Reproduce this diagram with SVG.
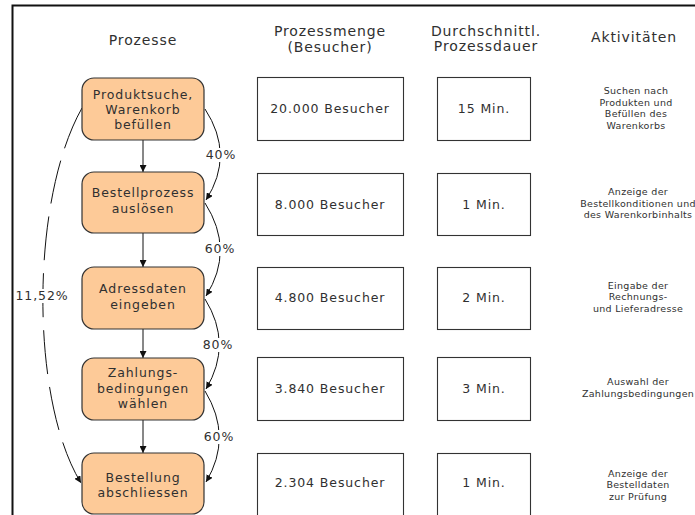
<svg xmlns="http://www.w3.org/2000/svg" width="695" height="515" viewBox="0 0 695 515">
<style>
text{font-family:"DejaVu Sans","Verdana",sans-serif;fill:#303030;text-anchor:middle}
.h{font-size:14px;letter-spacing:0.9px}
.n{font-size:12.5px;letter-spacing:0.9px}
.v{font-size:12.5px;letter-spacing:0.9px}
.a{font-size:9.5px;letter-spacing:0.3px}
.node rect{fill:#FDCA98;stroke:#333;stroke-width:1.2}
.box rect{fill:#fff;stroke:#333;stroke-width:1.1}
.c{fill:none;stroke:#111;stroke-width:1}
.lbl{fill:#fff;stroke:none}
</style>
<defs>
<marker id="ah" viewBox="0 0 10 10" refX="10" refY="5" markerWidth="7" markerHeight="7" markerUnits="userSpaceOnUse" orient="auto">
<path d="M0,0 L10,5 L0,10 z" fill="#111"/>
</marker>
</defs>
<rect width="695" height="515" fill="#fff"/>
<rect x="12.5" y="5.5" width="700" height="520" fill="none" stroke="#111" stroke-width="2"/>

<g id="headers">
<text class="h" x="143" y="45">Prozesse</text>
<text class="h" x="330" y="36">Prozessmenge</text>
<text class="h" x="330" y="52">(Besucher)</text>
<text class="h" x="486" y="36">Durchschnittl.</text>
<text class="h" x="486" y="51">Prozessdauer</text>
<text class="h" x="634" y="42">Aktivitäten</text>
</g>

<g id="connectors">
<line class="c" x1="143" y1="140" x2="143" y2="172" marker-end="url(#ah)"/>
<line class="c" x1="143" y1="233" x2="143" y2="267" marker-end="url(#ah)"/>
<line class="c" x1="143" y1="329" x2="143" y2="358" marker-end="url(#ah)"/>
<line class="c" x1="143" y1="420" x2="143" y2="453" marker-end="url(#ah)"/>
<path class="c" d="M205,109 Q235,155 206,200" marker-end="url(#ah)"/>
<path class="c" d="M205,203 Q235,250 206,296" marker-end="url(#ah)"/>
<path class="c" d="M205,299 Q233,344 206,389" marker-end="url(#ah)"/>
<path class="c" d="M205,391 Q233,437 206,482" marker-end="url(#ah)"/>
<path class="c" d="M82,108 C30,200 30,400 81,483" stroke-dasharray="44 13" marker-end="url(#ah)"/>
<rect class="lbl" x="204" y="148" width="34" height="14"/>
<text class="n" x="221" y="159">40%</text>
<rect class="lbl" x="204" y="242" width="34" height="14"/>
<text class="n" x="220" y="253">60%</text>
<rect class="lbl" x="202" y="338" width="34" height="14"/>
<text class="n" x="218" y="349">80%</text>
<rect class="lbl" x="202" y="430" width="34" height="14"/>
<text class="n" x="219" y="441">60%</text>
<rect class="lbl" x="14" y="289" width="56" height="14"/>
<text class="n" x="42" y="300">11,52%</text>
</g>

<g id="node1" class="node">
<rect x="82" y="78" width="122" height="62" rx="12"/>
<text class="n" x="143" y="98.5">Produktsuche,</text>
<text class="n" x="143" y="113.5">Warenkorb</text>
<text class="n" x="143" y="128.5">befüllen</text>
</g>
<g id="node2" class="node">
<rect x="82" y="172" width="122" height="61" rx="12"/>
<text class="n" x="143" y="197">Bestellprozess</text>
<text class="n" x="143" y="212.5">auslösen</text>
</g>
<g id="node3" class="node">
<rect x="82" y="267" width="122" height="62" rx="12"/>
<text class="n" x="143" y="293.3">Adressdaten</text>
<text class="n" x="143" y="309.3">eingeben</text>
</g>
<g id="node4" class="node">
<rect x="82" y="358" width="122" height="62" rx="12"/>
<text class="n" x="143" y="377.3">Zahlungs-</text>
<text class="n" x="143" y="392.7">bedingungen</text>
<text class="n" x="143" y="408.3">wählen</text>
</g>
<g id="node5" class="node">
<rect x="82" y="453" width="122" height="61" rx="12"/>
<text class="n" x="143" y="481.7">Bestellung</text>
<text class="n" x="143" y="496.7">abschliessen</text>
</g>

<g id="menge1" class="box"><rect x="257.5" y="77.5" width="146" height="63"/><text class="v" x="330" y="113">20.000 Besucher</text></g>
<g id="menge2" class="box"><rect x="257.5" y="173.5" width="146" height="62"/><text class="v" x="330" y="208.5">8.000 Besucher</text></g>
<g id="menge3" class="box"><rect x="257.5" y="267.5" width="146" height="62"/><text class="v" x="330" y="302">4.800 Besucher</text></g>
<g id="menge4" class="box"><rect x="257.5" y="357.5" width="146" height="63"/><text class="v" x="330" y="393">3.840 Besucher</text></g>
<g id="menge5" class="box"><rect x="257.5" y="453.5" width="146" height="70"/><text class="v" x="330" y="487">2.304 Besucher</text></g>

<g id="dauer1" class="box"><rect x="437.5" y="77.5" width="93" height="63"/><text class="v" x="484" y="113">15 Min.</text></g>
<g id="dauer2" class="box"><rect x="437.5" y="173.5" width="93" height="62"/><text class="v" x="484" y="208.5">1 Min.</text></g>
<g id="dauer3" class="box"><rect x="437.5" y="267.5" width="93" height="62"/><text class="v" x="484" y="302">2 Min.</text></g>
<g id="dauer4" class="box"><rect x="437.5" y="357.5" width="93" height="63"/><text class="v" x="484" y="393">3 Min.</text></g>
<g id="dauer5" class="box"><rect x="437.5" y="453.5" width="93" height="70"/><text class="v" x="484" y="487">1 Min.</text></g>

<g id="akt1">
<text class="a" x="636" y="94">Suchen nach</text>
<text class="a" x="636" y="105.7">Produkten und</text>
<text class="a" x="636" y="117.3">Befüllen des</text>
<text class="a" x="636" y="129">Warenkorbs</text>
</g>
<g id="akt2">
<text class="a" x="638" y="195">Anzeige der</text>
<text class="a" x="638" y="206.7">Bestellkonditionen und</text>
<text class="a" x="638" y="218.3">des Warenkorbinhalts</text>
</g>
<g id="akt3">
<text class="a" x="638" y="288.5">Eingabe der</text>
<text class="a" x="638" y="300.2">Rechnungs-</text>
<text class="a" x="638" y="311.8">und Lieferadresse</text>
</g>
<g id="akt4">
<text class="a" x="638" y="385">Auswahl der</text>
<text class="a" x="638" y="396.7">Zahlungsbedingungen</text>
</g>
<g id="akt5">
<text class="a" x="638" y="476.5">Anzeige der</text>
<text class="a" x="638" y="488.2">Bestelldaten</text>
<text class="a" x="638" y="499.8">zur Prüfung</text>
</g>
</svg>
